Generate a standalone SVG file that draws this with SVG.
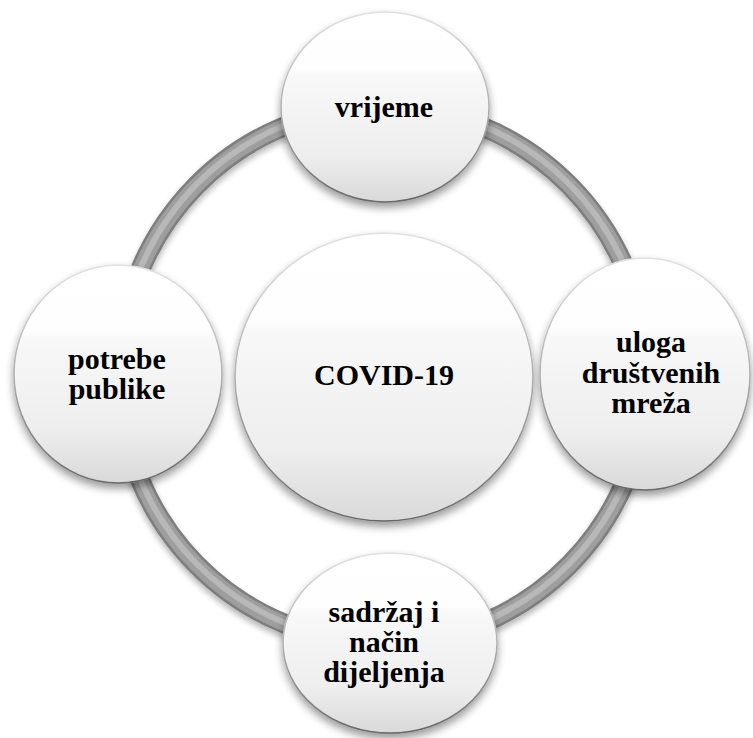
<svg xmlns="http://www.w3.org/2000/svg" width="753" height="738" viewBox="0 0 753 738">
  <defs>
    <linearGradient id="fillG" x1="0" y1="0" x2="0" y2="1">
      <stop offset="0" stop-color="#ffffff"/>
      <stop offset="0.3" stop-color="#fefefe"/>
      <stop offset="0.34" stop-color="#f8f8f8"/>
      <stop offset="0.75" stop-color="#eeeeee"/>
      <stop offset="1" stop-color="#d9d9d9"/>
    </linearGradient>
    <linearGradient id="rimG" x1="0" y1="0" x2="0" y2="1">
      <stop offset="0" stop-color="#e0e0e0"/>
      <stop offset="0.5" stop-color="#b0b0b0"/>
      <stop offset="1" stop-color="#666666"/>
    </linearGradient>
    <filter id="shadow" x="-20%" y="-20%" width="140%" height="140%">
      <feGaussianBlur in="SourceAlpha" stdDeviation="4"/>
      <feOffset dx="0" dy="5"/>
      <feComponentTransfer><feFuncA type="linear" slope="0.4"/></feComponentTransfer>
      <feMerge><feMergeNode/><feMergeNode in="SourceGraphic"/></feMerge>
    </filter>
    <filter id="ringShadow" x="-10%" y="-10%" width="120%" height="120%">
      <feGaussianBlur in="SourceAlpha" stdDeviation="3"/>
      <feOffset dx="0" dy="4"/>
      <feComponentTransfer><feFuncA type="linear" slope="0.3"/></feComponentTransfer>
      <feMerge><feMergeNode/><feMergeNode in="SourceGraphic"/></feMerge>
    </filter>
  </defs>
  <style>
    .node { fill: url(#fillG); stroke: url(#rimG); stroke-width: 1.5; filter: url(#shadow); }
    .lbl { font-family: "Liberation Serif", "Times New Roman", serif; font-weight: bold; font-size: 30px; fill: #000000; text-anchor: middle; }
    .ringA { fill: none; stroke: #7e7e7e; stroke-width: 20; }
    .ringB { fill: none; stroke: #9e9e9e; stroke-width: 15; }
    .ringC { fill: none; stroke: #b8b8b8; stroke-width: 6; }
  </style>
  <rect width="753" height="738" fill="#ffffff"/>
  <g id="connectors">
    <g filter="url(#ringShadow)">
      <ellipse class="ringA" cx="383" cy="375" rx="264" ry="268"/>
    </g>
    <ellipse class="ringB" cx="383" cy="375" rx="264" ry="268"/>
    <ellipse class="ringC" cx="383" cy="374" rx="264" ry="268"/>
  </g>
  <g id="node-center">
    <ellipse class="node" cx="384" cy="377" rx="149" ry="144"/>
    <text class="lbl" x="384" y="385">COVID-19</text>
  </g>
  <g id="node-top">
    <ellipse class="node" cx="385" cy="107" rx="104" ry="95"/>
    <text class="lbl" x="384" y="117">vrijeme</text>
  </g>
  <g id="node-left">
    <ellipse class="node" cx="118" cy="374" rx="104" ry="109"/>
    <text class="lbl" x="117" y="369">potrebe</text>
    <text class="lbl" x="117" y="399">publike</text>
  </g>
  <g id="node-right">
    <ellipse class="node" cx="645" cy="374" rx="105" ry="116"/>
    <text class="lbl" x="651" y="352">uloga</text>
    <text class="lbl" x="651" y="383">društvenih</text>
    <text class="lbl" x="651" y="413">mreža</text>
  </g>
  <g id="node-bottom">
    <ellipse class="node" cx="390" cy="643" rx="107" ry="90"/>
    <text class="lbl" x="384" y="622">sadržaj i</text>
    <text class="lbl" x="384" y="652">način</text>
    <text class="lbl" x="384" y="682">dijeljenja</text>
  </g>
</svg>
